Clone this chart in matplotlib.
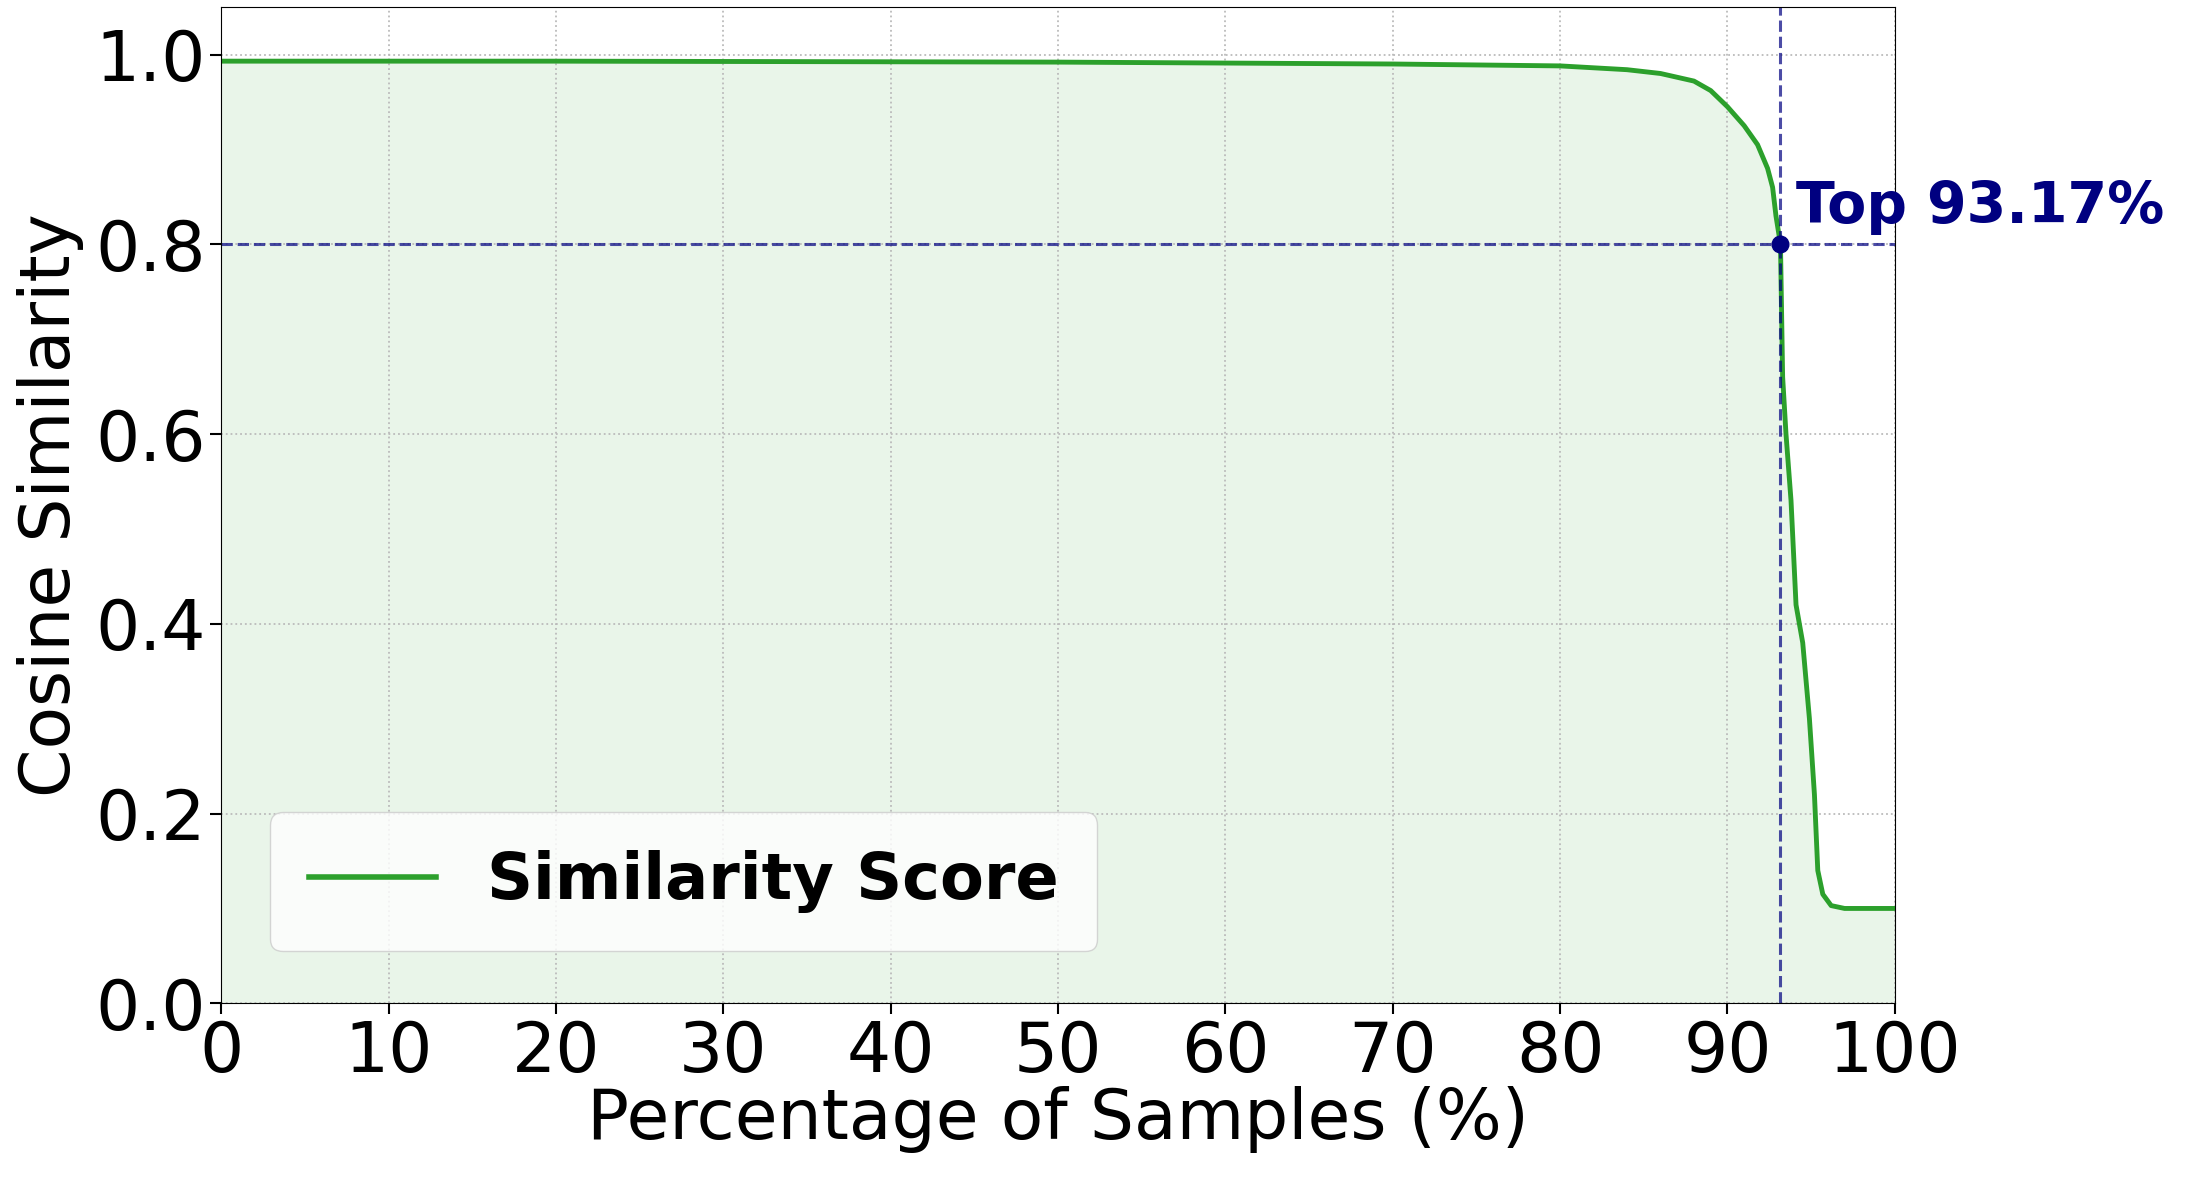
import matplotlib
matplotlib.use("Agg")
import matplotlib.pyplot as plt
import numpy as np

pct = [0, 20, 50, 70, 80, 84, 86, 88, 89, 90, 91, 91.8, 92.4, 92.7, 92.9, 93.17, 93.3, 93.5, 93.8, 94.1, 94.5, 94.9, 95.2, 95.4, 95.7, 96.2, 97, 100]
sim = [0.993, 0.993, 0.992, 0.990, 0.988, 0.984, 0.980, 0.972, 0.962, 0.945, 0.925, 0.905, 0.88, 0.86, 0.83, 0.80, 0.66, 0.60, 0.53, 0.42, 0.38, 0.30, 0.22, 0.14, 0.115, 0.103, 0.10, 0.10]
thr_x, thr_y = 93.17, 0.80
label = "Top 93.17%"

fig = plt.figure(figsize=(21.93, 11.79), dpi=100)
ax = fig.add_axes([0.101, 0.149, 0.763, 0.845])
ax.plot(pct, sim, color="#2ca02c", lw=3.5, label="Similarity Score")
ax.fill_between(pct, sim, 0, color="#2ca02c", alpha=0.1, lw=0)
ax.axhline(thr_y, color="navy", ls="--", lw=2.2, alpha=0.7)
ax.axvline(thr_x, color="navy", ls="--", lw=2.2, alpha=0.7)
ax.plot([thr_x], [thr_y], "o", color="navy", ms=12)
ax.text(thr_x + 0.9, thr_y + 0.01, label, color="navy", fontsize=41, fontweight="bold", va="bottom", ha="left", clip_on=False)
ax.set_xlim(0, 100)
ax.set_ylim(0, 1.05)
ax.set_xticks(np.arange(0, 101, 10))
ax.set_yticks(np.arange(0, 1.01, 0.2))
ax.tick_params(labelsize=50, length=8, width=1.5)
ax.set_xlabel("Percentage of Samples (%)", fontsize=50, labelpad=0)
ax.set_ylabel("Cosine Similarity", fontsize=50, labelpad=8)
ax.grid(True, ls=":", color="#bbbbbb", lw=1.3)
leg = ax.legend(loc="lower left", prop={"size": 46, "weight": "bold"}, borderpad=0.6, handlelength=2.0, bbox_to_anchor=(0.01, 0.02))
for lh in leg.get_lines():
    lh.set_linewidth(4)
fig.savefig("out.png", dpi=100)
